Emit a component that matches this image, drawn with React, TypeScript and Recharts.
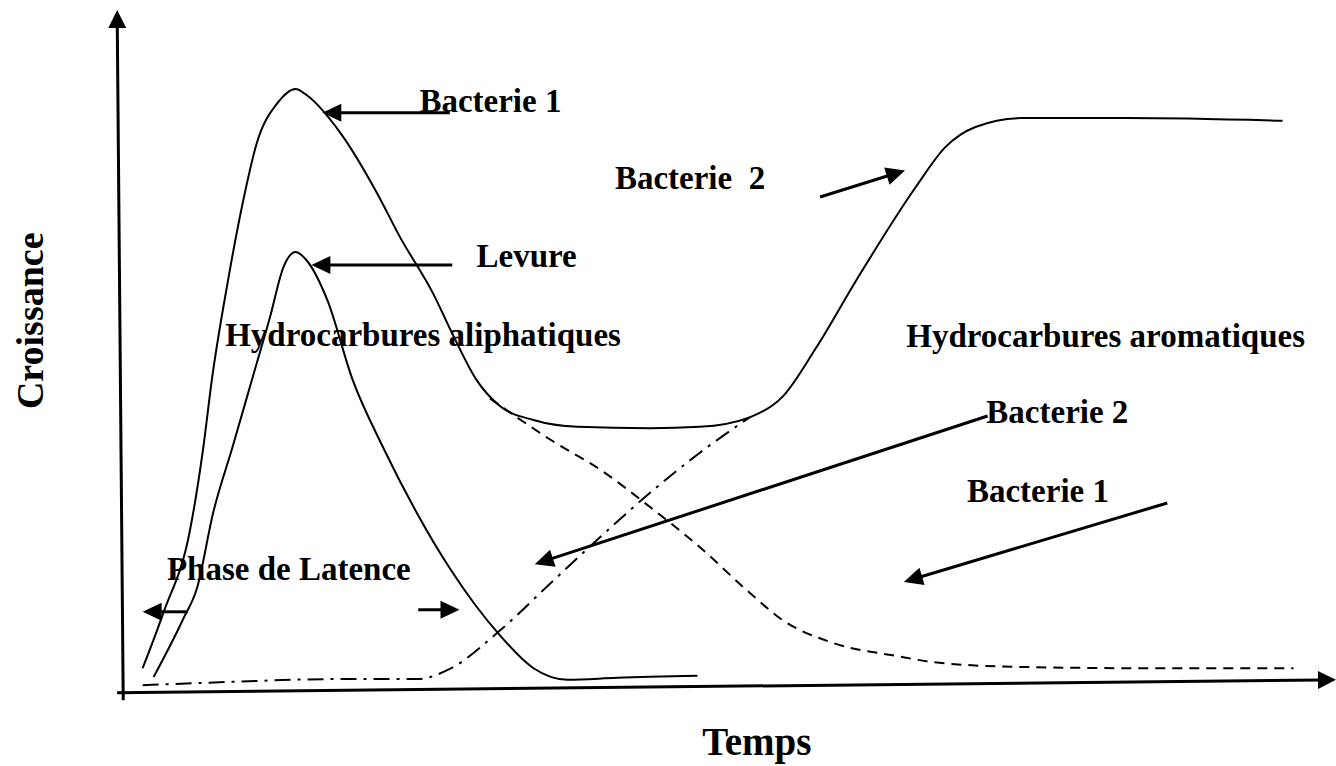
import React from 'react';
import { LineChart, Line, XAxis, YAxis, ReferenceLine, ReferenceDot } from 'recharts';

// Total growth (upper solid envelope): Bacterie 1 peak, plateau, Bacterie 2 rise
const croissanceTotale = [
  { t: 1.7, v: 3.2 }, { t: 3.4, v: 11.3 }, { t: 5.6, v: 23.5 }, { t: 6.7, v: 35.7 },
  { t: 7.4, v: 45.6 }, { t: 8.7, v: 59.9 }, { t: 10.0, v: 72.1 }, { t: 11.1, v: 80.4 },
  { t: 12.8, v: 86.3 }, { t: 14.3, v: 88.4 }, { t: 15.2, v: 87.5 }, { t: 18.0, v: 81.9 },
  { t: 21.0, v: 73.1 }, { t: 22.9, v: 66.6 }, { t: 25.6, v: 58.4 }, { t: 27.4, v: 51.7 },
  { t: 29.2, v: 45.6 }, { t: 31.1, v: 41.8 }, { t: 33.9, v: 39.7 }, { t: 37.5, v: 38.7 },
  { t: 43.5, v: 38.5 }, { t: 47.6, v: 38.7 }, { t: 51.7, v: 40.1 }, { t: 54.4, v: 43.1 },
  { t: 57.2, v: 50.4 }, { t: 60.5, v: 60.3 }, { t: 65.4, v: 74.0 }, { t: 67.8, v: 79.8 },
  { t: 70.3, v: 82.8 }, { t: 74.1, v: 84.1 }, { t: 82.8, v: 84.1 }, { t: 95.6, v: 83.7 },
];

// Levure (yeast)
const levure = [
  { t: 2.6, v: 1.9 }, { t: 5.0, v: 10.3 }, { t: 6.2, v: 15.1 }, { t: 7.5, v: 26.0 },
  { t: 9.1, v: 35.7 }, { t: 10.7, v: 45.6 }, { t: 12.2, v: 54.9 }, { t: 13.3, v: 62.2 },
  { t: 14.3, v: 64.4 }, { t: 15.2, v: 63.2 }, { t: 16.9, v: 57.4 }, { t: 19.0, v: 45.6 },
  { t: 21.5, v: 35.7 }, { t: 24.3, v: 26.0 }, { t: 27.0, v: 17.9 }, { t: 29.1, v: 12.5 },
  { t: 31.1, v: 8.1 }, { t: 33.9, v: 3.2 }, { t: 36.7, v: 1.5 }, { t: 40.8, v: 1.8 },
  { t: 47.4, v: 2.1 },
];

// Bacterie 1 decline (dashed)
const bacterie1Declin = [
  { t: 30.3, v: 42.9 }, { t: 35.3, v: 36.8 }, { t: 39.4, v: 32.4 }, { t: 43.5, v: 26.9 },
  { t: 47.6, v: 21.0 }, { t: 51.7, v: 14.3 }, { t: 54.4, v: 10.3 }, { t: 58.6, v: 6.9 },
  { t: 63.8, v: 5.0 }, { t: 66.8, v: 4.1 }, { t: 73.7, v: 3.4 }, { t: 84.7, v: 3.2 },
  { t: 96.5, v: 3.2 },
];

// Bacterie 2 before its rise (dash-dot)
const bacterie2Debut = [
  { t: 1.7, v: 0.7 }, { t: 9.1, v: 1.2 }, { t: 17.4, v: 1.6 }, { t: 24.3, v: 1.6 },
  { t: 27.0, v: 3.1 }, { t: 31.1, v: 8.7 }, { t: 35.3, v: 15.7 }, { t: 39.4, v: 22.5 },
  { t: 43.5, v: 29.0 }, { t: 47.6, v: 34.9 }, { t: 51.7, v: 40.1 },
];

// Axes (drawn as arrows)
const axisArrows = [
  { from: [0.1, -1.5], to: [-0.4, 100] },
  { from: [-0.4, -0.4], to: [100, 1.5] },
];

// Annotation arrows
const annotationArrows = [
  { from: [27.0, 84.9], to: [16.5, 84.9] },
  { from: [27.2, 62.5], to: [15.6, 62.5] },
  { from: [57.5, 72.5], to: [64.5, 76.4] },
  { from: [71.3, 40.3], to: [34.0, 18.5] },
  { from: [86.1, 27.5], to: [64.4, 15.9] },
  { from: [5.4, 11.5], to: [1.7, 11.5] },
  { from: [24.4, 11.8], to: [27.8, 11.8] },
];

// Text labels
const labelTexts = [
  'Bacterie 1', 'Levure', 'Hydrocarbures aliphatiques', 'Bacterie\u00a0\u00a02',
  'Hydrocarbures aromatiques', 'Bacterie 2', 'Bacterie 1', 'Phase de Latence',
];
const labelT = [24.5, 29.2, 8.5, 40.6, 64.6, 71.2, 69.6, 3.7];
const labelV = [85.0, 62.2, 50.6, 73.7, 50.4, 39.3, 27.6, 16.2];

const xTitle = { text: 'Temps', t: 52.3, v: -9.6 };
const yTitle = { text: 'Croissance', t: -6.5, v: 54.3 };

const FONT = '"Liberation Serif", "Times New Roman", serif';

const makeArrow = (headLen: number, headHalf: number, width: number) => (props: any) => {
  const { x1, y1, x2, y2 } = props;
  const dx = x2 - x1;
  const dy = y2 - y1;
  const len = Math.hypot(dx, dy) || 1;
  const ux = dx / len;
  const uy = dy / len;
  const bx = x2 - ux * headLen;
  const by = y2 - uy * headLen;
  return (
    <g>
      <line x1={x1} y1={y1} x2={bx + ux * 2} y2={by + uy * 2} stroke="#000" strokeWidth={width} />
      <polygon
        points={`${x2},${y2} ${bx - uy * headHalf},${by + ux * headHalf} ${bx + uy * headHalf},${by - ux * headHalf}`}
        fill="#000"
      />
    </g>
  );
};

const AxisArrow = makeArrow(18, 9, 3);
const AnnotArrow = makeArrow(19, 9, 3);

export default function App() {
  return (
    <div style={{ position: 'fixed', left: 0, top: 0, width: 1336, height: 766, background: '#fff' }}>
      <LineChart width={1336} height={766} margin={{ top: 10, right: 0, bottom: 76, left: 122 }}>
        <XAxis type="number" dataKey="t" domain={[0, 100]} hide />
        <YAxis type="number" dataKey="v" domain={[0, 100]} hide />

        {axisArrows.map((a, i) => (
          <ReferenceLine
            key={`ax${i}`}
            segment={[{ x: a.from[0], y: a.from[1] }, { x: a.to[0], y: a.to[1] }]}
            ifOverflow="visible"
            shape={AxisArrow}
          />
        ))}

        <Line data={croissanceTotale} dataKey="v" type="monotone" stroke="#000" strokeWidth={2} dot={false} isAnimationActive={false} />
        <Line data={levure} dataKey="v" type="monotone" stroke="#000" strokeWidth={2} dot={false} isAnimationActive={false} />
        <Line data={bacterie1Declin} dataKey="v" type="monotone" stroke="#000" strokeWidth={2} strokeDasharray="10 7" dot={false} isAnimationActive={false} />
        <Line data={bacterie2Debut} dataKey="v" type="monotone" stroke="#000" strokeWidth={2} strokeDasharray="16 7 3 7" dot={false} isAnimationActive={false} />

        {annotationArrows.map((a, i) => (
          <ReferenceLine
            key={`ar${i}`}
            segment={[{ x: a.from[0], y: a.from[1] }, { x: a.to[0], y: a.to[1] }]}
            ifOverflow="visible"
            shape={AnnotArrow}
          />
        ))}

        {labelTexts.map((txt, i) => (
          <ReferenceDot
            key={`lb${i}`}
            x={labelT[i]}
            y={labelV[i]}
            r={0}
            ifOverflow="visible"
            shape={(p: any) => (
              <text x={p.cx} y={p.cy} fontFamily={FONT} fontWeight="bold" fontSize={33} fill="#000">
                {txt}
              </text>
            )}
          />
        ))}

        <ReferenceDot
          x={xTitle.t}
          y={xTitle.v}
          r={0}
          ifOverflow="visible"
          shape={(p: any) => (
            <text x={p.cx} y={p.cy} textAnchor="middle" fontFamily={FONT} fontWeight="bold" fontSize={39} fill="#000">
              {xTitle.text}
            </text>
          )}
        />
        <ReferenceDot
          x={yTitle.t}
          y={yTitle.v}
          r={0}
          ifOverflow="visible"
          shape={(p: any) => (
            <text
              x={p.cx}
              y={p.cy}
              textAnchor="middle"
              transform={`rotate(-90 ${p.cx} ${p.cy})`}
              fontFamily={FONT}
              fontWeight="bold"
              fontSize={38}
              fill="#000"
            >
              {yTitle.text}
            </text>
          )}
        />
      </LineChart>
    </div>
  );
}
